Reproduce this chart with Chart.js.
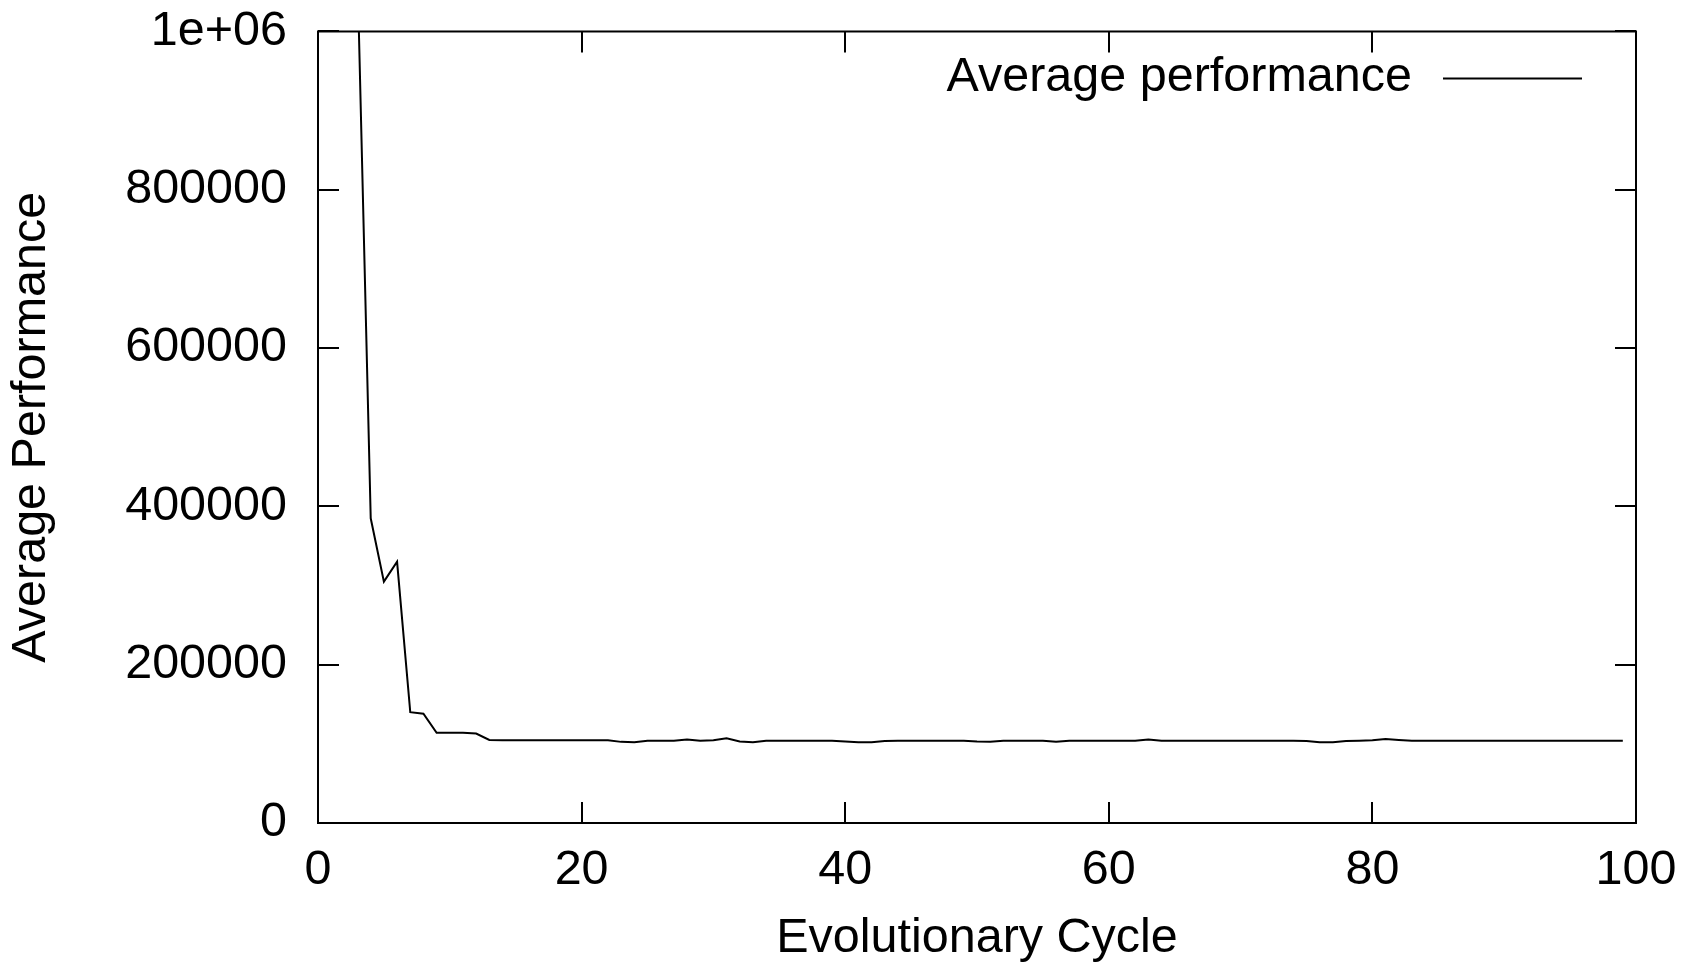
<!DOCTYPE html>
<html>
<head>
<meta charset="utf-8">
<title>Average performance</title>
<script src="https://cdn.jsdelivr.net/npm/chart.js@4.4.1/dist/chart.umd.min.js"></script>
<style>
    html, body { margin: 0; padding: 0; background: #fff; }
    #wrap { width: 1703px; height: 973px; }
</style>
</head>
<body>
<div id="wrap"><canvas id="chart" width="1703" height="973"></canvas></div>
<script>
// Data
const cycles = [
    3, 4, 5, 6, 7, 8, 9, 10, 11, 12, 13, 14, 15, 16, 17, 18, 19, 20, 21, 22,
    23, 24, 25, 26, 27, 28, 29, 30, 31, 32, 33, 34, 35, 36, 37, 38, 39, 40, 41, 42,
    43, 44, 45, 46, 47, 48, 49, 50, 51, 52, 53, 54, 55, 56, 57, 58, 59, 60, 61, 62,
    63, 64, 65, 66, 67, 68, 69, 70, 71, 72, 73, 74, 75, 76, 77, 78, 79, 80, 81, 82,
    83, 84, 85, 86, 87, 88, 89, 90, 91, 92, 93, 94, 95, 96, 97, 98, 99
];
const avgPerformance = [
    1070000, 385000, 305000, 330000, 140000, 138000, 114000, 114000, 114000, 113000,
    105000, 104500, 104500, 104500, 104500, 104500, 104500, 104500, 104500, 104500,
    102500, 102000, 104000, 104000, 104000, 105500, 104000, 104500, 107000, 103000,
    102000, 104000, 104000, 104000, 104000, 104000, 104000, 103000, 102000, 102000,
    103500, 104000, 104000, 104000, 104000, 104000, 104000, 103000, 102500, 104000,
    104000, 104000, 104000, 102500, 104000, 104000, 104000, 104000, 104000, 104000,
    105500, 104000, 104000, 104000, 104000, 104000, 104000, 104000, 104000, 104000,
    104000, 104000, 103500, 102000, 102000, 103500, 104000, 104500, 106000, 105000,
    104000, 104000, 104000, 104000, 104000, 104000, 104000, 104000, 104000, 104000,
    104000, 104000, 104000, 104000, 104000, 104000, 104000
];
const xTickLabels = ['0', '20', '40', '60', '80', '100'];
const yTickLabels = ['0', '200000', '400000', '600000', '800000', '1e+06'];
const seriesLabel = 'Average performance';

const FONT = "'Liberation Sans', Arial, Helvetica, sans-serif";
const FONT_SIZE = 48.5;
const TICK_LEN = 21;

// Frame, mirrored inward ticks and gnuplot-style key
const framePlugin = {
    id: 'frame',
    afterDraw: function (chart) {
        const ctx = chart.ctx;
        const a = chart.chartArea;
        const xs = chart.scales.x;
        const ys = chart.scales.y;
        ctx.save();
        ctx.strokeStyle = '#000';
        ctx.lineWidth = 2;
        ctx.strokeRect(a.left, a.top, a.right - a.left, a.bottom - a.top);

        ctx.beginPath();
        xs.ticks.forEach(t => {
            const px = Math.round(xs.getPixelForValue(t.value));
            ctx.moveTo(px, a.bottom);
            ctx.lineTo(px, a.bottom - TICK_LEN);
            ctx.moveTo(px, a.top);
            ctx.lineTo(px, a.top + TICK_LEN);
        });
        ys.ticks.forEach(t => {
            const py = Math.round(ys.getPixelForValue(t.value));
            ctx.moveTo(a.left, py);
            ctx.lineTo(a.left + TICK_LEN, py);
            ctx.moveTo(a.right, py);
            ctx.lineTo(a.right - TICK_LEN, py);
        });
        ctx.stroke();

        // key: text right-aligned, sample line to the right
        const ds = chart.data.datasets[0];
        const keyY = a.top + 46;
        ctx.font = FONT_SIZE + 'px ' + FONT;
        ctx.fillStyle = '#000';
        ctx.textAlign = 'right';
        ctx.textBaseline = 'middle';
        ctx.fillText(ds.label, a.right - 224, keyY);
        ctx.beginPath();
        ctx.strokeStyle = ds.borderColor;
        ctx.lineWidth = ds.borderWidth;
        ctx.moveTo(a.right - 193, keyY + 1);
        ctx.lineTo(a.right - 54, keyY + 1);
        ctx.stroke();
        ctx.restore();
    }
};

const points = cycles.map((c, i) => ({ x: c, y: avgPerformance[i] }));

new Chart(document.getElementById('chart'), {
    type: 'line',
    data: {
        datasets: [{
            label: seriesLabel,
            data: points,
            borderColor: '#000',
            borderWidth: 2,
            pointRadius: 0,
            tension: 0,
            fill: false
        }]
    },
    options: {
        responsive: false,
        animation: false,
        devicePixelRatio: 1,
        layout: { padding: { top: 31, right: 67, left: 0, bottom: 0 } },
        plugins: {
            legend: { display: false },
            tooltip: { enabled: false }
        },
        scales: {
            x: {
                type: 'linear',
                position: 'bottom',
                min: 0,
                max: 100,
                afterFit: function (s) { s.height = 150; },
                grid: { display: false, drawTicks: false },
                border: { display: false },
                ticks: {
                    stepSize: 20,
                    padding: 19,
                    color: '#000',
                    maxRotation: 0,
                    font: { family: FONT, size: FONT_SIZE },
                    callback: (v, i) => xTickLabels[i]
                },
                title: {
                    display: true,
                    text: 'Evolutionary Cycle',
                    color: '#000',
                    font: { family: FONT, size: FONT_SIZE, lineHeight: 1.2 },
                    padding: { top: 0, bottom: 5 }
                }
            },
            y: {
                type: 'linear',
                position: 'left',
                min: 0,
                max: 1000000,
                afterFit: function (s) { s.width = 318; },
                grid: { display: false, drawTicks: false },
                border: { display: false },
                ticks: {
                    stepSize: 200000,
                    padding: 31,
                    color: '#000',
                    // tiny line height so the top label does not push the plot down
                    font: { family: FONT, size: FONT_SIZE, lineHeight: 0.02 },
                    callback: (v, i) => yTickLabels[i]
                },
                title: {
                    display: true,
                    text: 'Average Performance',
                    color: '#000',
                    font: { family: FONT, size: FONT_SIZE, lineHeight: 1.2 },
                    padding: { top: 3, bottom: 0 }
                }
            }
        }
    },
    plugins: [framePlugin]
});
</script>
</body>
</html>
